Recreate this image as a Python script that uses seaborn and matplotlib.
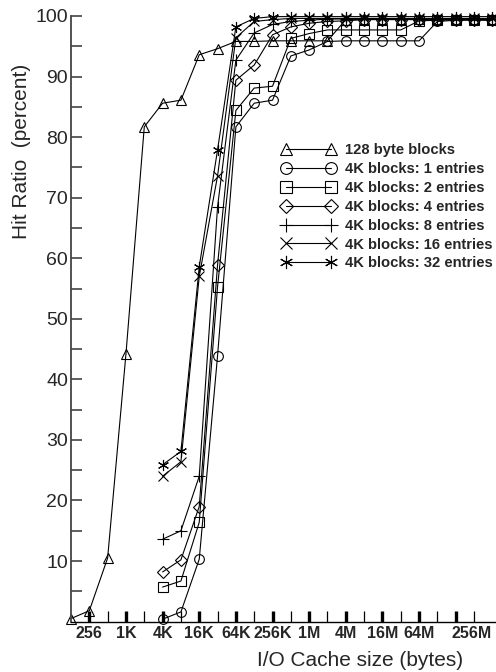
import numpy as np
import pandas as pd
import matplotlib
matplotlib.use("Agg")
import matplotlib.pyplot as plt
import matplotlib.transforms as mtransforms
from matplotlib.lines import Line2D
from matplotlib.ticker import FixedLocator, NullFormatter
import seaborn as sns

# ---------------- data ----------------
series_names = ["128 byte blocks", "4K blocks: 1 entries", "4K blocks: 2 entries",
                "4K blocks: 4 entries", "4K blocks: 8 entries",
                "4K blocks: 16 entries", "4K blocks: 32 entries"]

# cache sizes (bytes): 128 byte blocks from 128 B, 4K blocks from 4 KB, doubling up to 1 GB
sizes_128 = [2 ** k for k in range(7, 31)]
sizes_4k = [2 ** k for k in range(12, 31)]

hit_128 = [0.5, 1.8, 10.5, 44.2, 81.7, 85.6, 86.1, 93.6, 94.6, 95.8, 95.8, 95.9,
           95.9, 95.9, 95.9, 99.4, 99.5, 99.5, 99.5, 99.5, 99.5, 99.5, 99.5, 99.5]
hit_4k_1 = [0.4, 1.6, 10.3, 43.9, 81.7, 85.6, 86.1, 93.4, 94.4, 95.8, 95.9, 95.9,
            95.9, 95.9, 95.9, 99.1, 99.3, 99.3, 99.3]
hit_4k_2 = [5.7, 6.7, 16.4, 55.3, 84.4, 88.1, 88.4, 96.3, 97.1, 97.7, 97.7, 97.7,
            97.7, 97.7, 99.2, 99.3, 99.4, 99.4, 99.4]
hit_4k_4 = [8.2, 10.2, 19.0, 58.9, 89.4, 91.9, 96.9, 98.2, 98.8, 99.1, 99.2, 99.4,
            99.4, 99.4, 99.4, 99.4, 99.4, 99.4, 99.4]
hit_4k_8 = [13.6, 15.0, 24.0, 68.5, 92.7, 97.2, 98.6, 99.1, 99.3, 99.5, 99.5, 99.5,
            99.5, 99.5, 99.5, 99.5, 99.5, 99.5, 99.5]
hit_4k_16 = [24.0, 26.4, 57.0, 73.6, 96.4, 99.1, 99.4, 99.6, 99.6, 99.6, 99.6, 99.6,
             99.6, 99.6, 99.6, 99.6, 99.6, 99.6, 99.6]
hit_4k_32 = [25.9, 28.1, 58.6, 77.9, 98.2, 99.6, 99.9, 99.9, 99.9, 99.9, 99.9, 99.9,
             99.9, 99.9, 99.9, 99.9, 99.9, 99.9, 99.9]

major_ticks = [2 ** k for k in range(8, 29, 2)]
major_labels = ["256", "1K", "4K", "16K", "64K", "256K", "1M", "4M", "16M", "64M", "256M"]
minor_ticks = [2 ** k for k in range(9, 30, 2)]
y_major = [10, 20, 30, 40, 50, 60, 70, 80, 90, 100]
y_minor = [5, 15, 25, 35, 45, 55, 65, 75, 85, 95]

# --------------- table ---------------
frames = [pd.DataFrame({"size": sizes_128, "hit": hit_128, "series": series_names[0]})]
for name, vals in zip(series_names[1:], [hit_4k_1, hit_4k_2, hit_4k_4, hit_4k_8,
                                         hit_4k_16, hit_4k_32]):
    frames.append(pd.DataFrame({"size": sizes_4k, "hit": vals, "series": name}))
df = pd.concat(frames, ignore_index=True)

marker_map = {series_names[0]: "^", series_names[1]: "o", series_names[2]: "s",
              series_names[3]: "D", series_names[4]: "+", series_names[5]: "x",
              series_names[6]: (6, 2, 0)}
msize_map = {series_names[0]: 7.5, series_names[1]: 7, series_names[2]: 7,
             series_names[3]: 6, series_names[4]: 8, series_names[5]: 6.5,
             series_names[6]: 8}

# --------------- figure ---------------
sns.set_style("ticks")
plt.rcParams["font.family"] = ["Liberation Sans", "DejaVu Sans"]

W, H = 496, 672
fig = plt.figure(figsize=(W / 100, H / 100), dpi=100)
x0, x1, y0, y1 = 71, 496, 621.6, 16
ax = fig.add_axes([x0 / W, 1 - y0 / H, (x1 - x0) / W, (y0 - y1) / H])
ax.set_xscale("log", base=2)

for name in series_names:
    sub = df[df["series"] == name]
    sns.lineplot(data=sub, x="size", y="hit", color="black", estimator=None,
                 sort=True, legend=False, ax=ax, linewidth=0.8,
                 marker=marker_map[name], markersize=msize_map[name],
                 markeredgecolor="black", markerfacecolor="none",
                 markeredgewidth=0.8, clip_on=False)

for line in ax.lines:
    line.set_markerfacecolor("none")
    line.set_markeredgecolor("black")
    line.set_clip_on(False)

ax.set_xlim(2 ** 7, 2 ** (7 + (x1 - x0) / 18.32))
ax.set_ylim(0, 100)

# ticks
ax.xaxis.set_major_locator(FixedLocator(major_ticks))
ax.set_xticklabels(major_labels, fontsize=11.5, fontweight="bold")
ax.xaxis.set_minor_locator(FixedLocator(minor_ticks))
ax.xaxis.set_minor_formatter(NullFormatter())
ax.tick_params(axis="x", which="major", direction="in", length=8, width=2.4,
               color="black", pad=3)
ax.tick_params(axis="x", which="minor", direction="in", length=8, width=0.9,
               color="black")
lbls = ax.get_xticklabels()
lbls[-1].set_horizontalalignment("left")
lbls[-1].set_transform(lbls[-1].get_transform() +
                       mtransforms.ScaledTranslation(-4 / 100, 0, fig.dpi_scale_trans))

ax.yaxis.set_major_locator(FixedLocator(y_major))
ax.yaxis.set_minor_locator(FixedLocator(y_minor))
ax.yaxis.set_minor_formatter(NullFormatter())
ax.set_yticklabels([str(v) for v in y_major], fontsize=14)
ax.tick_params(axis="y", which="both", direction="in", length=8, width=1.2,
               color="#444444", pad=2)

sns.despine(ax=ax, top=True, right=True)
ax.spines["left"].set_color("#444444")
ax.spines["left"].set_linewidth(1.3)
ax.spines["bottom"].set_color("black")
ax.spines["bottom"].set_linewidth(1.0)

# axis labels
ax.set_xlabel("I/O Cache size (bytes)", fontsize=15)
ax.xaxis.set_label_coords((360.5 - x0) / (x1 - x0), (y0 - 661) / (y0 - y1))
ax.xaxis.label.set_verticalalignment("center")
ax.set_ylabel("Hit Ratio  (percent)", fontsize=15)
ax.yaxis.set_label_coords((21.7 - x0) / (x1 - x0), (y0 - 151) / (y0 - y1))
ax.yaxis.label.set_verticalalignment("center")

# legend
handles = [Line2D([], [], color="black", linewidth=0.8, marker=marker_map[n],
                  markersize=msize_map[n] + 1.5, markerfacecolor="none",
                  markeredgecolor="black", markeredgewidth=0.8)
           for n in series_names]
leg = ax.legend(handles, series_names, loc="upper left",
                bbox_to_anchor=(281.7 / W, 1 - 143.3 / H), bbox_transform=fig.transFigure,
                frameon=False, numpoints=2, handlelength=3.66, handletextpad=0.67,
                labelspacing=0.33, borderpad=0, borderaxespad=0,
                prop={"size": 10.6, "weight": "bold"})

fig.savefig("out.png", dpi=100)
